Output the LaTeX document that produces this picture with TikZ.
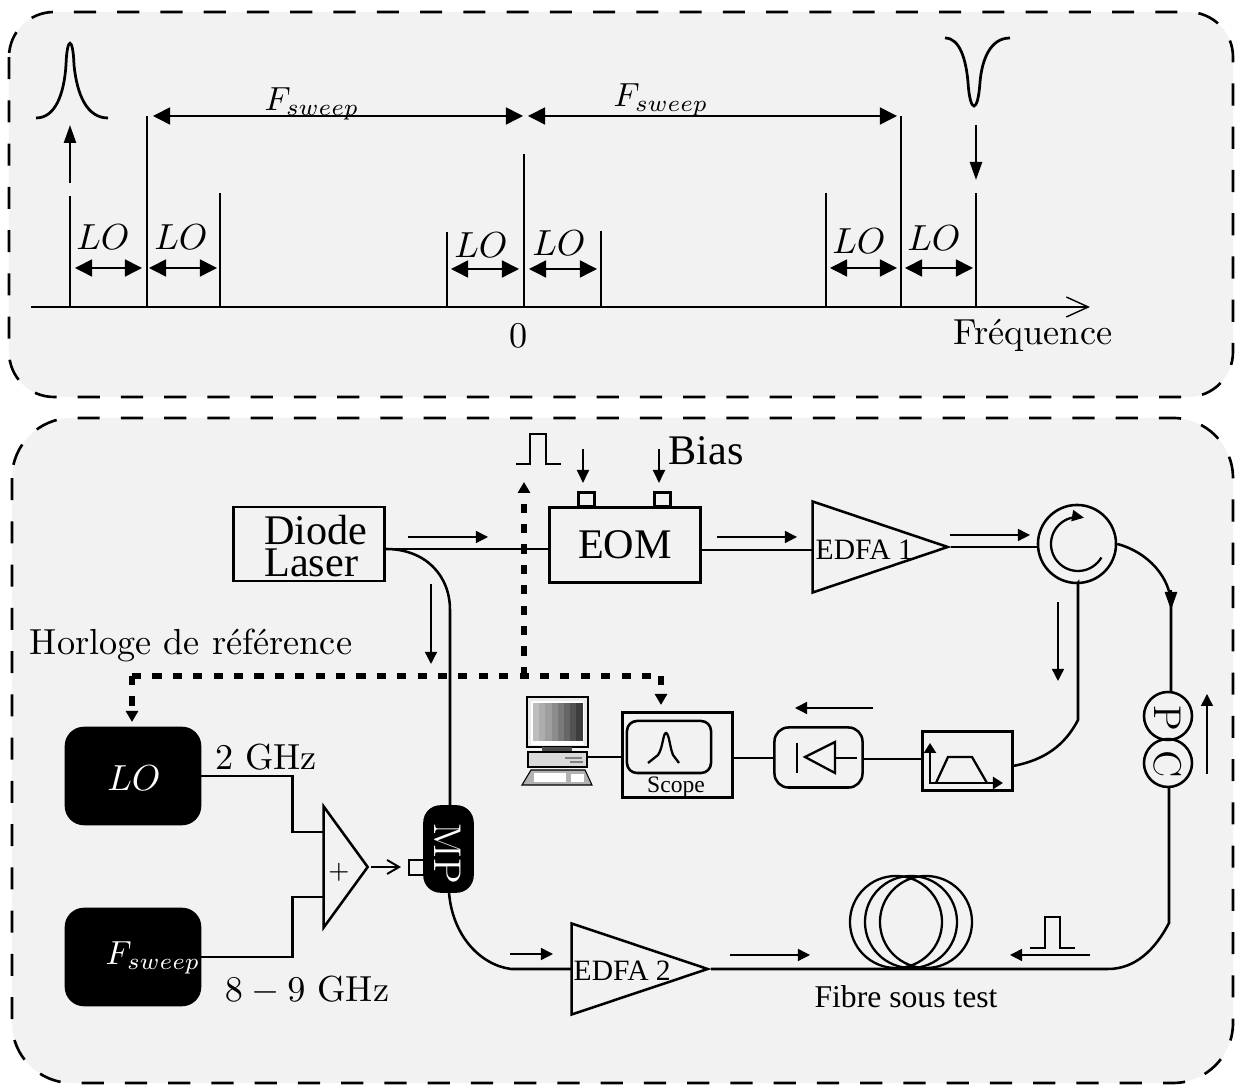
\documentclass[tikz,border=0pt]{standalone}
\usepackage{fontspec}
\usepackage{xcolor}
\usepackage{tikz}
\usetikzlibrary{arrows.meta,shapes.geometric}
\newfontfamily\timesf{Liberation Serif}
\definecolor{panelgray}{RGB}{242, 242, 242}
\tikzset{
  panel/.style={line width=0.75pt, fill=panelgray, dash pattern=on 6.3pt off 6pt},
  fibre/.style={line width=0.72pt},
  specline/.style={line width=0.65pt},
  sigarrow/.style={line width=0.4pt, -{Triangle[length=0.12cm,width=0.12cm]}},
  gaparrow/.style={line width=0.45pt, {Triangle[length=0.17cm,width=0.17cm]}-{Triangle[length=0.17cm,width=0.17cm]}},
  tiparrow/.style={line width=0.7pt, -{Triangle[length=0.18cm,width=0.12cm]}},
  biasarrow/.style={line width=0.55pt, -{Triangle[length=0.13cm,width=0.12cm]}},
  clocklink/.style={line width=1.7pt, dash pattern=on 2.6pt off 3.2pt},
  clocktip/.style={-{Triangle[length=0.11cm,width=0.12cm]}},
  box/.style={draw, line width=0.72pt, inner sep=0pt},
  blackbox/.style={box, fill=black, text=white, rounded corners=0.18cm},
  amp/.style={draw, line width=0.72pt, isosceles triangle, isosceles triangle stretches, inner sep=0pt, anchor=apex},
  ring/.style={draw, line width=0.72pt, circle, inner sep=0pt},
  lmtext/.style={scale=1.03},
  sweeptext/.style={scale=0.95},
  tnrbig/.style={font=\timesf\fontsize{12}{9}\selectfont},
  tnrmid/.style={font=\timesf\fontsize{8.4}{9}\selectfont},
}

\begin{document}
\begin{tikzpicture}[x=0.01cm,y=-0.01cm]
\useasboundingbox (0,0) rectangle (1235,1086);
% Panels
\draw[panel, rounded corners=0.45cm] (9,12) rectangle (1233,397);
\draw[panel, rounded corners=0.6cm] (12,418) rectangle (1233,1083);

% Spectrum
\draw[line width=0.72pt] (31,307) -- (976,307);
\draw[line width=0.4pt, -{Straight Barb[length=0.22cm,width=0.2cm]}] (976,307) -- (1090,307);
\foreach \x/\y in {70/196, 147/116, 220/193, 447/232, 524/154, 601/231, 826/193, 901/116, 976/193} {
    \draw[specline] (\x,307) -- (\x,\y);
}
\foreach \xa/\xb/\y in {75/142/268, 149/217/268, 451/519/269, 529/597/269, 830/897/268, 905/973/268} {
    \draw[gaparrow] (\xa,\y) -- (\xb,\y);
}
\foreach \x/\y in {103/237, 181/237, 481/245, 559/243, 859/241, 934/238} {
    \node[lmtext] at (\x,\y) {$LO$};
}
\draw[gaparrow] (153,116) -- (523,116);
\draw[gaparrow] (528,116) -- (897,116);
\node[sweeptext] at (312,104) {$F_{sweep}$};
\node[sweeptext] at (661,100) {$F_{sweep}$};
\node[lmtext] at (519,336) {0};
\node[lmtext] at (1033,335) {Fréquence};
% Pump and probe
\draw[tiparrow] (70,183) -- (70,125);
\draw[tiparrow] (976,125) -- (976,180);
\draw[line width=0.78pt] (36,118) .. controls (55,118) and (64,95) .. (66,65) .. controls (67,36) and (73,36) .. (74,65) .. controls (77,95) and (87,118) .. (108,118);
\draw[line width=0.78pt] (945,38) .. controls (960,38) and (966,60) .. (968,82) .. controls (970,114) and (978,114) .. (980,82) .. controls (982,60) and (990,38) .. (1010,38);

% Components
\node[box, minimum width=1.51cm, minimum height=0.74cm] (laser) at (309,544) {};
\node[tnrbig, align=left] (laserlabel) at (316,546) {Diode\\Laser};
\node[box, tnrbig, minimum width=1.51cm, minimum height=0.75cm] (eom) at (625,545) {EOM};
\node[box, minimum width=0.16cm, minimum height=0.14cm] (taba) at (586.5,499.5) {};
\node[box, minimum width=0.16cm, minimum height=0.14cm] (tabb) at (662.5,499.5) {};
\node[amp, minimum width=0.91cm, minimum height=1.35cm] (edfaone) at (951,547) {};
\node[tnrmid, anchor=west, inner sep=0pt] (edfaonelabel) at (815,550) {EDFA 1};
\node[ring, minimum size=0.78cm] (circ) at (1077,544) {};
\node[ring, minimum size=0.48cm] (pcp) at (1168,716) {};
\node[ring, minimum size=0.48cm] (pcc) at (1168,763) {};
\node[rotate=-90, font=\fontsize{11}{12}\selectfont] (pclabelp) at (1168,718) {P};
\node[rotate=-90, font=\fontsize{11}{12}\selectfont] (pclabelc) at (1168,764) {C};
\node[box, minimum width=0.9cm, minimum height=0.59cm] (filter) at (967.5,761) {};
\node[box, rounded corners=0.14cm, minimum width=0.88cm, minimum height=0.6cm] (detector) at (818.5,757.5) {};
\node[box, minimum width=1.1cm, minimum height=0.85cm] (scope) at (677.5,755) {};
\node[box, rounded corners=0.1cm, minimum width=0.84cm, minimum height=0.52cm] (screen) at (669,747) {};
\node[font=\timesf\fontsize{6.7}{8}\selectfont, inner sep=0pt] (scopelabel) at (676,787) {Scope};
\node[blackbox, minimum width=1.34cm, minimum height=0.96cm] (lobox) at (133,776) {};
\node[text=white, lmtext] (lolabel) at (134,778) {$LO$};
\node[blackbox, minimum width=1.34cm, minimum height=0.96cm] (sweepbox) at (133,957) {};
\node[text=white, inner sep=0pt, sweeptext] (sweeplabel) at (153,958) {$F_{sweep}$};
\node[amp, minimum width=1.21cm, minimum height=0.44cm] (adder) at (371,867) {};
\node[font=\fontsize{7}{8}\selectfont, inner sep=0pt] (addlabel) at (339,872) {$+$};
\node[blackbox, rounded corners=0.16cm, minimum width=0.48cm, minimum height=0.85cm] (mp) at (448.5,849) {};
\node[text=white, rotate=-90, font=\fontsize{11}{12}\selectfont, inner sep=0pt] (mplabel) at (448,854) {MP};
\node[box, minimum width=0.15cm, minimum height=0.15cm] (mptab) at (416.5,867.5) {};
\node[amp, minimum width=0.91cm, minimum height=1.36cm] (edfatwo) at (711,969) {};
\node[tnrmid, anchor=west, inner sep=0pt] (edfatwolabel) at (573,971) {EDFA 2};
% Fibre coil
\foreach \x in {896, 911, 926} {
    \node[ring, line width=0.65pt, minimum size=0.92cm] (coil\x) at (\x,922) {};
}
\node[font=\timesf\fontsize{9}{10}\selectfont] (coillabel) at (906,997) {Fibre sous test};

% Fibre path
\coordinate (eomin) at (549,549);
\coordinate (eomout) at (701,550);
\coordinate (edfaonein) at (813,550);
\coordinate (bendlaser) at (450,610);
\coordinate (mptop) at (450,806);
\coordinate (mpbot) at (449,892);
\coordinate (bendmp) at (511,969);
\coordinate (edfatwoin) at (572,969);
\coordinate (circleft) at (1038,547);
\coordinate (bendcirc) at (1171,605);
\coordinate (pctop) at (1171,692);
\coordinate (bendfilter) at (1078,720);
\coordinate (filterright) at (1013,766);
\coordinate (pcbot) at (1169,787);
\coordinate (bendcoilr) at (1169,923);
\coordinate (bendcoilb) at (1108,969);
\draw[fibre] (laser.east |- eomin) -- (eomin);
\draw[fibre] (laser.east |- eomin) .. controls (425,549) and (450,575) .. (bendlaser) -- (mptop);
\draw[fibre] (eomout) -- (edfaonein);
\draw[fibre] (edfaone.apex) -- (circleft);
\draw[fibre] (circ.east) .. controls (1148,552) and (1171,578) .. (bendcirc) -- (pctop);
\draw[tiparrow] (1171,590) -- (1171,610);
\draw[fibre] (circ.south) -- (1078,583) -- (bendfilter) .. controls (1065,745) and (1045,760) .. (filterright);
\draw[fibre] (filter.west |- 0,759) -- (detector.east |- 0,759);
\draw[fibre] (detector.west |- 0,758) -- (scope.east |- 0,758);
\draw[fibre] (scope.west |- 0,757) -- (587,757);
\draw[fibre] (pcbot) -- (bendcoilr) .. controls (1155,950) and (1135,969) .. (bendcoilb) -- (edfatwo.apex);
\draw[fibre] (mpbot) .. controls (452,935) and (480,965) .. (bendmp) -- (edfatwoin);
% Electrical links
\coordinate (addina) at (324,832);
\coordinate (addinb) at (324,897);
\coordinate (mptabin) at (401,867);
\draw[fibre] (lobox.east) -- ++(91,0) |- (addina);
\draw[fibre] (sweepbox.east) -- ++(91,0) |- (addinb);
\draw[line width=0.55pt, -{Straight Barb[length=0.12cm,width=0.14cm]}] (adder.apex) -- (mptabin);
\node[lmtext] at (266,757) (lofreq) {2 GHz};
\node[lmtext] at (307,990) (sweepfreq) {$8-9$ GHz};

% Clock lines
\node[lmtext] (clocklabel) at (191,645) {Horloge de référence};
\coordinate (clockjoin) at (524,676);
\coordinate (clockleft) at (132,676);
\coordinate (clockright) at (661,676);
\coordinate (pulsetip) at (524,482);
\coordinate (scopetip) at (661,705);
\coordinate (lotip) at (132,722);
\draw[clocklink] (clockleft) -- (clockright);
\draw[clocklink, clocktip] (clockjoin) -- (pulsetip);
\draw[clocklink, clocktip] (clockright) -- (scopetip);
\draw[clocklink, clocktip] (clockleft) -- (lotip);

% Small arrows along the light
\foreach \n/\xa/\ya/\xb/\yb in {a/408/537/488/537, b/717/537/797/537, c/950/535/1030/535, d/431/584/431/664, e/1058/602/1058/681, f/873/708/795/708, g/1207/774/1207/694, h/510/954/553/954, i/730/955/810/955, j/1090/955/1010/955} {
    \coordinate (sig\n a) at (\xa,\ya);
    \coordinate (sig\n b) at (\xb,\yb);
    \draw[sigarrow] (sig\n a) -- (sig\n b);
}
% Bias arrows
\coordinate (biasa) at (583,449);
\coordinate (biasb) at (659,449);
\draw[biasarrow] (biasa) -- (583,483);
\draw[biasarrow] (biasb) -- (659,483);
\node[tnrbig, anchor=west, inner sep=0pt] (biaslabel) at (668,451) {Bias};
% Pulses
\draw[fibre] (516,464) -- (530,464) -- (530,434) -- (546,434) -- (546,464) -- (561,464);
\draw[fibre] (1030,948) -- (1045,948) -- (1045,917) -- (1060,917) -- (1060,948) -- (1075,948);
% Circulator arrow
\draw[line width=0.65pt, -{Triangle[length=0.12cm,width=0.11cm]}] plot[domain=30:283, samples=40] ({1078+27*cos(\x)},{544+27*sin(\x)});

% Filter icon
\draw[line width=0.65pt, {Triangle[length=0.1cm,width=0.12cm]}-{Triangle[length=0.1cm,width=0.12cm]}] (930,743) -- (930,783) -- (1003,783);
\draw[line width=0.65pt] (936,783) -- (948,757) -- (972,757) -- (987,783);
% Photodiode icon
\draw[line width=0.65pt] (797,743) -- (797,773);
\draw[line width=0.65pt] (805,757) -- (835,742) -- (835,773) -- cycle;
\draw[line width=0.65pt] (835,758) -- (857,758);
% Scope trace
\draw[line width=0.65pt] (648,763) -- (658,755) .. controls (663,748) and (663,733) .. (666,733) .. controls (669,733) and (670,748) .. (673,755) -- (679,763);

% Computer
\draw[fill=black!8, line width=0.3pt] (527,697) rectangle (588,747);
\fill[white] (531,701) rectangle (584,745);
\foreach \i/\g in {0/26, 1/32, 2/38, 3/45, 4/52, 5/60, 6/68, 7/76} {
    \fill[black!\g] ({533+\i*6.2},703) rectangle ({533+(\i+1)*6.2},741);
}
\fill[black!70] (542,747) rectangle (572,752);
\draw[fill=black!15, line width=0.3pt] (528,752) rectangle (587,767);
\draw[black!50, line width=0.3pt] (565,758) -- (582,758) (570,762) -- (583,762);
\draw[fill=black!30, line width=0.3pt] (531,770) -- (585,770) -- (592,785) -- (522,785) -- cycle;
\fill[white] (534,773) rectangle (566,782);
\fill[white] (571,774) rectangle (584,782);
\end{tikzpicture}
\end{document}
